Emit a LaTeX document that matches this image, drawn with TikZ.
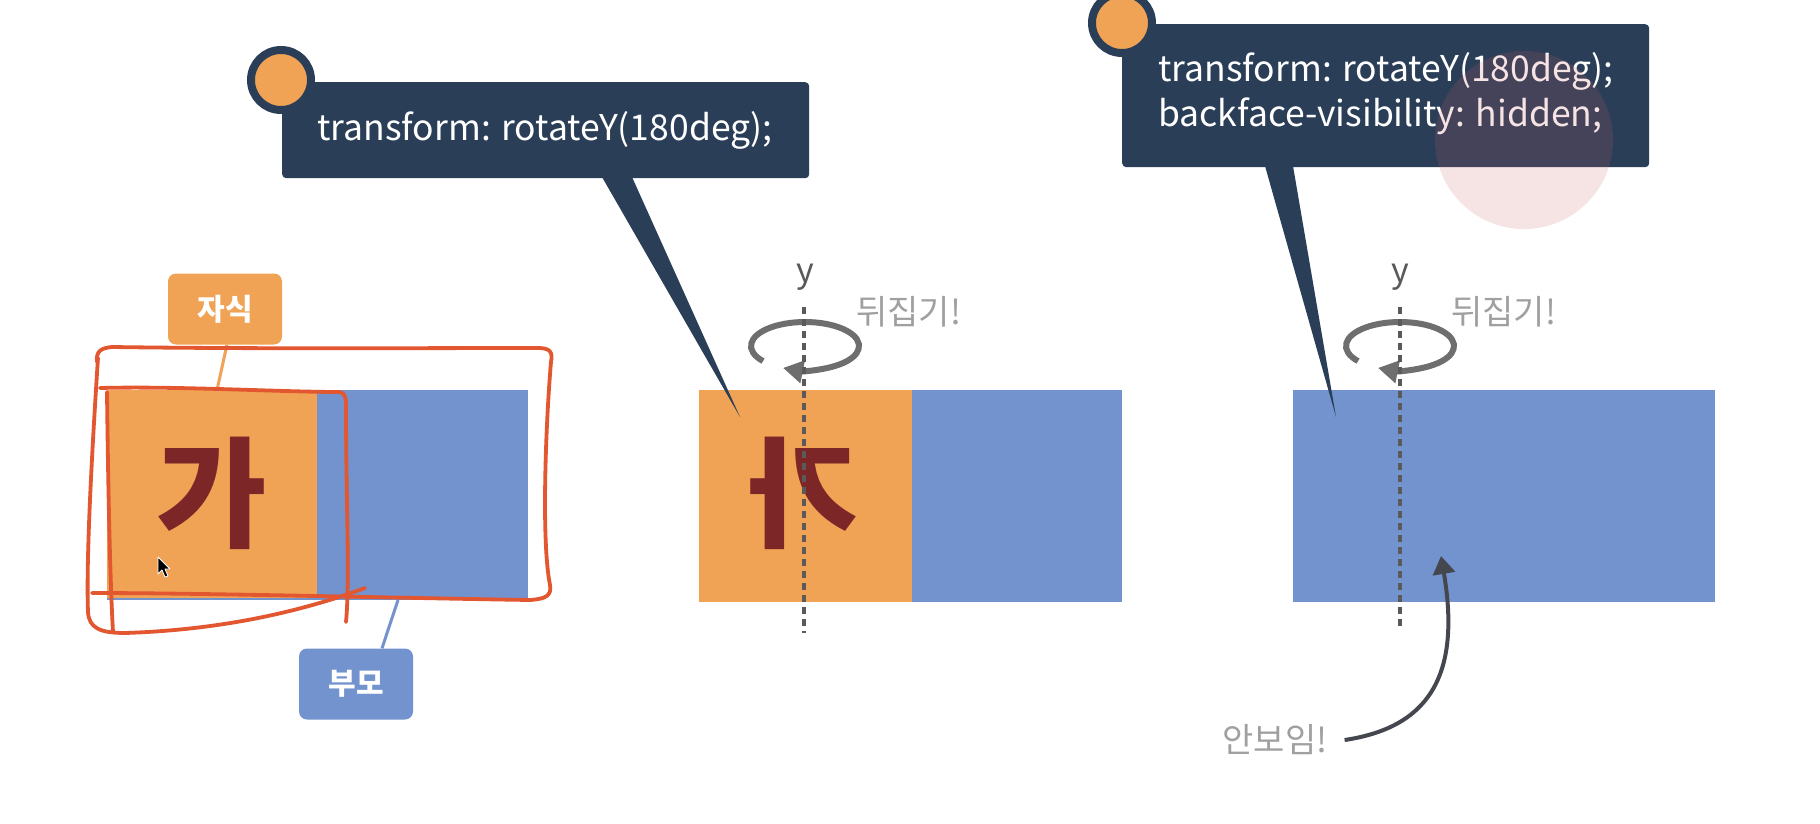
\documentclass[tikz,border=0pt]{standalone}
\usepackage{fontspec}
\setmainfont{Noto Sans CJK KR}
\usetikzlibrary{arrows.meta}
\definecolor{orangeC}{HTML}{F0A255}
\definecolor{blueC}{HTML}{7393CF}
\definecolor{navyC}{HTML}{2A3E58}
\definecolor{redC}{HTML}{7D2628}
\definecolor{scribC}{HTML}{E2572F}
\definecolor{arrowC}{HTML}{6E6E6E}
\definecolor{axisC}{HTML}{5A5A5A}
\definecolor{lightTxt}{HTML}{A0A0A0}
\definecolor{pinkC}{RGB}{205,92,95}
\definecolor{curveC}{HTML}{45474F}
\begin{document}
\begin{tikzpicture}[x=1pt,y=-1pt,
  face/.style={rectangle, inner sep=0pt, outer sep=0pt, anchor=north west},
  lbl/.style={rectangle, rounded corners=8pt, inner sep=0pt, minimum width=114pt, minimum height=71pt, text=white, font=\fontsize{30}{36}\selectfont\bfseries},
  callout/.style={rectangle, rounded corners=4pt, fill=navyC, inner sep=0pt, anchor=north west},
  badge/.style={circle, fill=orangeC, draw=navyC, line width=8pt, minimum size=60pt, inner sep=0pt},
  code/.style={text=white, font=\fontsize{35.5}{45}\selectfont, inner sep=0pt, anchor=base west},
  flip/.style={line width=6pt, draw=arrowC, -{Triangle[length=20pt,width=22pt]}},
  axisline/.style={draw=axisC, line width=3.5pt, dash pattern=on 7pt off 5pt},
  note/.style={text=lightTxt, font=\fontsize{34}{40}\selectfont, inner sep=0pt},
  glyph/.style={text=redC, font=\fontsize{120}{120}\selectfont\bfseries, inner sep=0pt},
  scrib/.style={draw=scribC, line width=3.8pt, line cap=round, line join=round}
]
\useasboundingbox (0,0) rectangle (1820,824);
\fill[white] (0,0) rectangle (1820,824);

% ---------- left: parent / child ----------
\node[face, fill=blueC, minimum width=421pt, minimum height=210pt] (par) at (107,390) {};
\node[face, fill=orangeC, minimum width=210pt, minimum height=208pt] (chi) at (107,390) {};
\node[glyph] (ga) at (212,493) {가};

\node[lbl, fill=orangeC] (lchild) at (225,309) {자식};
\node[lbl, fill=blueC] (lparent) at (356,684) {부모};
\coordinate (cc) at (217,390);
\coordinate (pc) at (398,600);
\draw[orangeC, line width=3pt] ([xshift=2pt]lchild.south) -- (cc);
\draw[blueC, line width=3pt] (pc) -- ([xshift=26pt]lparent.north);

% cursor
\filldraw[fill=black, draw=white, line width=0.8pt, line join=round]
  (158,557) -- (158,574) -- (162,570) -- (165,577) -- (168,576) -- (165,569) -- (170,569) -- cycle;

% ---------- middle ----------
\node[face, fill=orangeC, minimum width=213pt, minimum height=212pt] (mo) at (699,390) {};
\node[face, fill=blueC, minimum width=210pt, minimum height=212pt] (mb) at (912,390) {};
\node[glyph] (mga) at (803,493) {\reflectbox{가}};

% callout 1
\coordinate (tip1) at (740,417);
\fill[navyC] (602,177) -- (632,177) -- (tip1) -- cycle;
\node[callout, minimum width=527pt, minimum height=96pt] (cb1) at (282,82) {};
\node[badge] (bd1) at (281,80) {};
\node[code] (code1) at (317,140) {transform: rotateY(180deg);};

% rotation 1
\coordinate (e1) at (805,346);
\draw[flip] ([shift={(141:54 and 24)}]e1) arc[start angle=141, end angle=474, x radius=54, y radius=24];
\node[text=axisC, font=\fontsize{34}{40}\selectfont, inner sep=0pt] (y1) at (805,277) {y};
\node[note, anchor=west] (f1) at (856,312) {뒤집기!};
\coordinate (a1b) at (804,633);
\draw[axisline] (804,307) -- (a1b);

% ---------- right ----------
\node[face, fill=blueC, minimum width=422pt, minimum height=212pt] (rb) at (1293,390) {};

% callout 2
\coordinate (tip2) at (1336,417);
\fill[navyC] (1265,166) -- (1293,166) -- (tip2) -- cycle;
\node[callout, minimum width=527pt, minimum height=143pt] (cb2) at (1122,24) {};
\node[badge] (bd2) at (1122,23) {};
\node[code] (code2a) at (1158,82) {transform: rotateY(180deg);};
\node[code] (code2b) at (1158,127) {backface-visibility: hidden;};
\fill[pinkC, opacity=0.17] (1524,140) circle (89);

% rotation 2
\coordinate (e2) at (1400,346);
\draw[flip] ([shift={(141:54 and 24)}]e2) arc[start angle=141, end angle=474, x radius=54, y radius=24];
\node[text=axisC, font=\fontsize{34}{40}\selectfont, inner sep=0pt] (y2) at (1400,277) {y};
\node[note, anchor=west] (f2) at (1451,312) {뒤집기!};
\coordinate (a2b) at (1400,628);
\draw[axisline] (1400,307) -- (a2b);

% hidden note
\node[note] (hid) at (1275,740) {안보임!};
\coordinate (hidtip) at (1441,556);
\draw[line width=4pt, curveC, -{Triangle[length=18pt,width=22pt]}]
  ([xshift=17pt]hid.east) .. controls (1425,728) and (1462,680) .. (hidtip);

% ---------- red scribbles ----------
\draw[scrib] (97,362) .. controls (96,352) and (100,348) .. (112,347)
  .. controls (250,349) and (420,348) .. (538,348)
  .. controls (550,348) and (553,352) .. (551,362)
  .. controls (546,420) and (541,540) .. (550,585)
  .. controls (552,596) and (545,599) .. (530,600)
  .. controls (400,598) and (200,593) .. (92,593);
\draw[scrib] (98,358) .. controls (92,450) and (86,560) .. (88,612)
  .. controls (89,628) and (100,633) .. (125,633)
  .. controls (220,630) and (300,612) .. (365,588);
\draw[scrib] (100,388) .. controls (180,386) and (280,392) .. (340,392)
  .. controls (346,393) and (346,400) .. (346,410)
  .. controls (346,500) and (350,580) .. (346,622);
\draw[scrib] (107,392) .. controls (108,480) and (110,580) .. (113,632);
\end{tikzpicture}
\end{document}
